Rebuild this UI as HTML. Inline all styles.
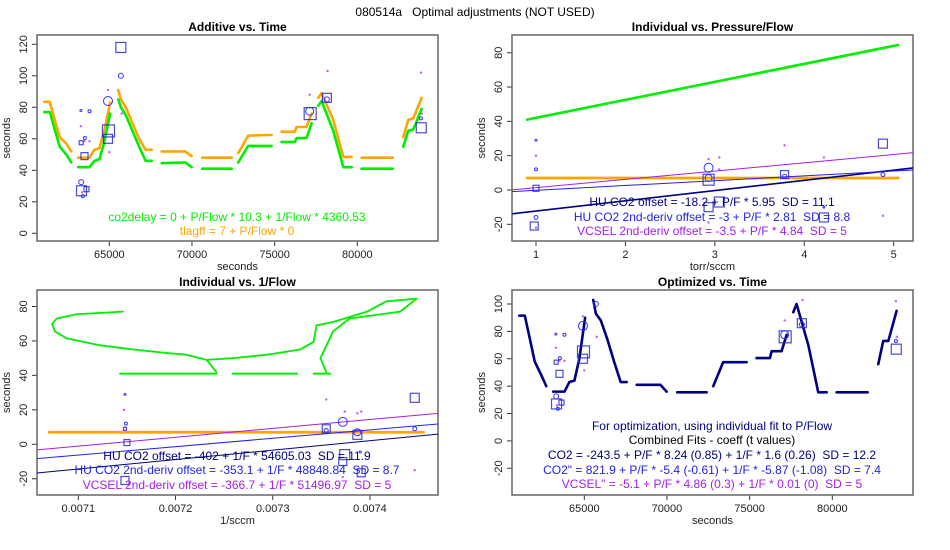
<!DOCTYPE html>
<html><head><meta charset="utf-8"><style>
html,body{margin:0;padding:0;background:#fff;}
svg{display:block;font-family:"Liberation Sans",sans-serif;}
text{white-space:pre;}
</style></head><body>
<svg id="c" width="950" height="550" viewBox="0 0 950 550" xmlns="http://www.w3.org/2000/svg" xml:space="preserve">
<text x="475" y="16" text-anchor="middle" font-size="12">080514a   Optimal adjustments (NOT USED)</text>
</svg>
<script>
// ---- time series data (segments) ----
const segTimes = [
 [61070,61400,61700,62000,62400,62700],
 [63120,63800,64100,64400,64700,65050],
 [65540,65700,66000,66400,66800,67200,67560],
 [68170,69600,69980],
 [70620,72400],
 [72800,73400,74820],
 [75420,76230,76330,76930,77240],
 [77640,77840,78550,79150,79660],
 [80260,82140],
 [82780,83080,83390,83890]
];
const greenVals = [
 [77,77,66,55,50,45],[42,42,46,47,58,76],[85,80,75,65,55,46,46],[44.5,45,42],[41,41],
 [45,55.5,55.5],[58,58,60.5,60.5,70],[81,84,65,42,42],[41,41],[55,65,66,79]];
const orangeVals = [
 [83.5,83.5,72,61,57,52],[48,48,53,54,65,83],[91,85,80,70,60,53,53],[52,52,49],[48,48],
 [51,62,62.5],[64.5,64.5,67.5,67.5,76],[86,89,72,48.5,48.5],[48,48],[61,72,73,86]];
const navyVals = [
 [91.5,91.5,75,58,48,40],[36,36,43,44,60,90],[103,93,88,74,58,43,43],[41,41,36],[35.5,35.5],
 [40,57.5,57.5],[60.5,60.5,65.5,65.5,77.5],[94,100,70,35.5,35.5],[35.5,35.5],[56,73,73,95]];
// markers vs time
const sqT = [65700,63500,63320,63620,63300,64950,64920,77150,78160,83870];
const sqV = [118,49,27,28,57.5,65,60,76,86,67];
const sqS = [5,3.5,5,2.5,2,6,4.5,6,4.5,5];
const ciT = [65700,64920,63300,63400,63280,63520,63800,77120,78160,83850];
const ciV = [100,84,32.5,23.5,78,60.5,77.5,77.5,85,73];
const ciR = [2.5,4.5,2.5,1.5,1,1.5,1.5,4,2.5,1.5];
const puT = [64920,65000,63280,63500,63800,65750,77120,78200,83850,63350,83900];
const puV = [91,51.5,68,58.5,58.5,76,88,103,102,26,76];
// panel 2 (P/F)
const pfGreenX = [0.9,5.05];
const pfGreenV = [41,84.5];
const pfSqX = [1,0.98,2.93,3.05,2.93,3.78,4.22,4.88];
const pfSqV = [1,-21,6,-7,-10,9,-16,27];
const pfSqS = [3,4,5.5,5,4.5,4,4.5,4.5];
const pfCiX = [2.93,2.93,1,1,1,3.78,4.88,4.22];
const pfCiV = [13,7,-16,12,29,8,9,-10];
const pfCiR = [4.5,3.5,2,1.5,1,2,2,1];
const pfPuX = [1,2.93,3.05,3.78,4.22,4.88,2.93,3.05,1];
const pfPuV = [20,18,19,26,19,-15,-19,12,-22];
const pfFitNavy = [-18.2,5.95], pfFitBlue = [-3,2.81], pfFitPurple = [-3.5,4.84];
// panel 3 (1/F), x in units of 1e-3
const ifPathA_X = [7.146,7.098,7.078,7.073,7.076,7.088,7.122,7.157,7.191,7.211,7.232,7.242];
const ifPathA_V = [77,75.5,73,70,65.5,61.5,57.5,55,53,52,49,42];
const ifPathB_X = [7.232,7.259,7.294,7.328,7.342,7.345,7.362,7.397,7.417,7.448,7.431,7.379,7.362,7.349,7.355];
const ifPathB_V = [49,50,52,55,59.5,69,71,77,83,84.5,77,73,65.5,50,42];
const ifFlatStart = [7.143,7.259,7.342];
const ifFlatEnd = [7.242,7.325,7.359];
const ifFlatV = [41,41,41];
const ifSqX = [7.150,7.148,7.355,7.374,7.372,7.387,7.391,7.446,7.148];
const ifSqV = [1,-21,9,-6,-10,5.5,-16.5,27,9];
const ifSqS = [3,4,4,5,4,4.5,4,4.5,1.5];
const ifCiX = [7.372,7.387,7.355,7.446,7.149,7.148,7.390];
const ifCiV = [13,7,8,9,12,29,-4.5];
const ifCiR = [4.5,3.5,2,2,1.5,1,1];
const ifPuX = [7.147,7.355,7.374,7.387,7.391,7.446,7.372];
const ifPuV = [20,26,19,18,19,-15,-19];
const ifFitNavy = [-402,54605.03], ifFitBlue = [-353.1,48848.84], ifFitPurple = [-366.7,51496.97];

const NS="http://www.w3.org/2000/svg";
const svg=document.getElementById('c');
function mk(tag,attrs,parent){const e=document.createElementNS(NS,tag);for(const k in attrs)e.setAttribute(k,attrs[k]);(parent||svg).appendChild(e);return e;}

const GREEN="#00ee00",ORANGE="#ffa500",NAVY="#000080",BLUE="#2a2acc",PURPLE="#a020f0";

function clipFor(id,box){const cp=mk('clipPath',{id:id});mk('rect',{x:box[0],y:box[1],width:box[2]-box[0],height:box[3]-box[1]},cp);}
function panel(name,box,xs,ys,xticks,xlabs,yticks,title,xlabel,clip){
  clipFor(clip,box);
  const g=mk('g',{});
  
  
  const [x0,y0,x1,y1]=box;
  const t=mk('text',{x:(x0+x1)/2,y:y0-4,'text-anchor':'middle','font-size':12,'font-weight':'bold'},g);
  t.textContent=title;
  
  
  const xt=mk('g',{},g);
  
  
  xticks.forEach((v,i)=>{const x=xs(v);
    mk('line',{x1:x,x2:x,y1:y1,y2:y1+5,stroke:'#333'},xt);
    const tl=mk('text',{x:x,y:y1+17,'text-anchor':'middle','font-size':11,fill:'#222'},xt);tl.textContent=xlabs[i];});
  mk('line',{x1:xs(xticks[0]),x2:xs(xticks[xticks.length-1]),y1:y1,y2:y1,stroke:'#333'},xt);
  const xl=mk('text',{x:(x0+x1)/2,y:y1+29,'text-anchor':'middle','font-size':11,fill:'#222'},g);xl.textContent=xlabel;
  
  
  const yt=mk('g',{},g);
  
  
  yticks.forEach(v=>{const y=ys(v);
    mk('line',{x1:x0,x2:x0-5,y1:y,y2:y,stroke:'#333'},yt);
    const tl=mk('text',{x:x0-10,y:y,'text-anchor':'middle','font-size':11,fill:'#222',transform:`rotate(-90 ${x0-10} ${y})`},yt);tl.textContent=v;});
  mk('line',{x1:x0,x2:x0,y1:ys(yticks[0]),y2:ys(yticks[yticks.length-1]),stroke:'#333'},yt);
  const yl=mk('text',{x:x0-27,y:(y0+y1)/2,'text-anchor':'middle','font-size':11,fill:'#222',transform:`rotate(-90 ${x0-27} ${(y0+y1)/2})`},g);yl.textContent='seconds';
  
  
  mk('rect',{x:x0,y:y0,width:x1-x0,height:y1-y0,fill:'none',stroke:'#666','stroke-width':1.5},g);
  const inner=mk('g',{'clip-path':`url(#${clip})`},g);
  
  
  return inner;
}
function poly(g,X,V,xs,ys,color,w,nm){
  const p=mk('polyline',{points:X.map((x,i)=>xs(x)+','+ys(V[i])).join(' '),fill:'none',stroke:color,'stroke-width':w,'stroke-linejoin':'round','stroke-linecap':'round'},g);
  
  
}
function markers(g,sx,sv,ss,cx,cv,cr,px,pv,xs,ys){
  sx.forEach((x,i)=>{const s=ss[i];const r=mk('rect',{x:xs(x)-s,y:ys(sv[i])-s,width:2*s,height:2*s,fill:'none',stroke:BLUE,'stroke-width':1.2,'stroke-opacity':0.85},g);
    
    });
  cx.forEach((x,i)=>{const c=mk('circle',{cx:xs(x),cy:ys(cv[i]),r:cr[i],fill:'none',stroke:'#3333ff','stroke-width':1},g);
    
    });
  px.forEach((x,i)=>{const c=mk('circle',{cx:xs(x),cy:ys(pv[i]),r:1.2,fill:PURPLE,'fill-opacity':0.7},g);
    
    });
}
function txt(x,y,s,color,nm){const t=mk('text',{x:x,y:y,'text-anchor':'middle','font-size':12,fill:color});t.textContent=s;
  
  }
function fit(g,coef,xa,xb,xs,ys,color,w,nm){
  const l=mk('line',{x1:xs(xa),y1:ys(coef[0]+coef[1]*xa),x2:xs(xb),y2:ys(coef[0]+coef[1]*xb),stroke:color,'stroke-width':w},g);
  
  
}

// Panel 1
const tx1=t=>109.3+(t-65000)*0.016533, vy1=v=>233.3-v*1.575;
const g1=panel('panel-additive-vs-time',[37,35,438,241],tx1,vy1,[65000,70000,75000,80000],['65000','70000','75000','80000'],[0,20,40,60,80,100,120],'Additive vs. Time','seconds','cl1');
segTimes.forEach((ts,k)=>{poly(g1,ts,orangeVals[k],tx1,vy1,ORANGE,2.6,'tlagff-line');poly(g1,ts,greenVals[k],tx1,vy1,GREEN,2.6,'co2delay-line');});
markers(g1,sqT,sqV,sqS,ciT,ciV,ciR,puT,puV,tx1,vy1);
txt(237,221,'co2delay = 0 + P/Flow * 10.3 + 1/Flow * 4360.53',GREEN,'co2delay-equation');
txt(237,235,'tlagff = 7 + P/Flow * 0',ORANGE,'tlagff-equation');

// Panel 2
const px2=p=>536+(p-1)*89.42, vy2=v=>190-v*1.716;
const g2=panel('panel-individual-vs-pf',[512,35,913,241],px2,vy2,[1,2,3,4,5],['1','2','3','4','5'],[-20,0,20,40,60,80],'Individual vs. Pressure/Flow','torr/sccm','cl2');
poly(g2,pfGreenX,pfGreenV,px2,vy2,GREEN,2.6,'co2delay-line');
poly(g2,[0.9,5.05],[7,7],px2,vy2,ORANGE,2.8,'tlagff-line');
fit(g2,pfFitNavy,0.7,5.3,px2,vy2,NAVY,1.6,'fit-hu-co2');
fit(g2,pfFitBlue,0.7,5.3,px2,vy2,'#2222ee',1,'fit-hu-co2-2nd');
fit(g2,pfFitPurple,0.7,5.3,px2,vy2,PURPLE,1,'fit-vcsel');
markers(g2,pfSqX,pfSqV,pfSqS,pfCiX,pfCiV,pfCiR,pfPuX,pfPuV,px2,vy2);
txt(712,206,'HU CO2 offset = -18.2 + P/F * 5.95  SD = 11.1',NAVY,'hu-co2-equation');
txt(712,221,'HU CO2 2nd-deriv offset = -3 + P/F * 2.81  SD = 8.8','#2222ee','hu-co2-2nd-equation');
txt(712,235,'VCSEL 2nd-deriv offset = -3.5 + P/F * 4.84  SD = 5',PURPLE,'vcsel-equation');

// Panel 3
const fx3=f=>78.3+(f-0.0071)*972333, vy3=v=>444.3-v*1.723;
const fx3k=f=>fx3(f/1000);
const g3=panel('panel-individual-vs-inv-flow',[37,290,438,495],fx3,vy3,[0.0071,0.0072,0.0073,0.0074],['0.0071','0.0072','0.0073','0.0074'],[-20,0,20,40,60,80],'Individual vs. 1/Flow','1/sccm','cl3');
poly(g3,ifPathA_X,ifPathA_V,fx3k,vy3,GREEN,1.8,'co2delay-path');
poly(g3,ifPathB_X,ifPathB_V,fx3k,vy3,GREEN,1.8,'co2delay-path');
ifFlatStart.forEach((s,i)=>poly(g3,[s,ifFlatEnd[i]],[ifFlatV[i],ifFlatV[i]],fx3k,vy3,GREEN,2,'co2delay-flat'));
poly(g3,[7.07,7.455],[7,7],fx3k,vy3,ORANGE,2.8,'tlagff-line');
fit(g3,ifFitNavy,0.00705,0.00748,fx3,vy3,NAVY,1,'fit-hu-co2');
fit(g3,ifFitBlue,0.00705,0.00748,fx3,vy3,'#2222ee',1,'fit-hu-co2-2nd');
fit(g3,ifFitPurple,0.00705,0.00748,fx3,vy3,PURPLE,1,'fit-vcsel');
markers(g3,ifSqX,ifSqV,ifSqS,ifCiX,ifCiV,ifCiR,ifPuX,ifPuV,fx3k,vy3);
txt(237,460,'HU CO2 offset = -402 + 1/F * 54605.03  SD = 11.9',NAVY,'hu-co2-equation');
txt(237,474,'HU CO2 2nd-deriv offset = -353.1 + 1/F * 48848.84  SD = 8.7','#2222ee','hu-co2-2nd-equation');
txt(237,489,'VCSEL 2nd-deriv offset = -366.7 + 1/F * 51496.97  SD = 5',PURPLE,'vcsel-equation');

// Panel 4
const tx4=t=>584.3+(t-65000)*0.016533, vy4=v=>440.9-v*1.369;
const g4=panel('panel-optimized-vs-time',[512,290,913,495],tx4,vy4,[65000,70000,75000,80000],['65000','70000','75000','80000'],[-20,0,20,40,60,80,100],'Optimized vs. Time','seconds','cl4');
segTimes.forEach((ts,k)=>poly(g4,ts,navyVals[k],tx4,vy4,NAVY,2.6,'optimized-line'));
markers(g4,sqT,sqV,sqS,ciT,ciV,ciR,puT,puV,tx4,vy4);
txt(712,430,'For optimization, using individual fit to P/Flow',NAVY,'note-line');
txt(712,444,'Combined Fits - coeff (t values)','#000','combined-title');
txt(712,459,'CO2 = -243.5 + P/F * 8.24 (0.85) + 1/F * 1.6 (0.26)  SD = 12.2',NAVY,'co2-equation');
txt(712,474,'CO2" = 821.9 + P/F * -5.4 (-0.61) + 1/F * -5.87 (-1.08)  SD = 7.4','#2222ee','co2-2nd-equation');
txt(712,488,'VCSEL" = -5.1 + P/F * 4.86 (0.3) + 1/F * 0.01 (0)  SD = 5',PURPLE,'vcsel-equation');
</script>
</body></html>
